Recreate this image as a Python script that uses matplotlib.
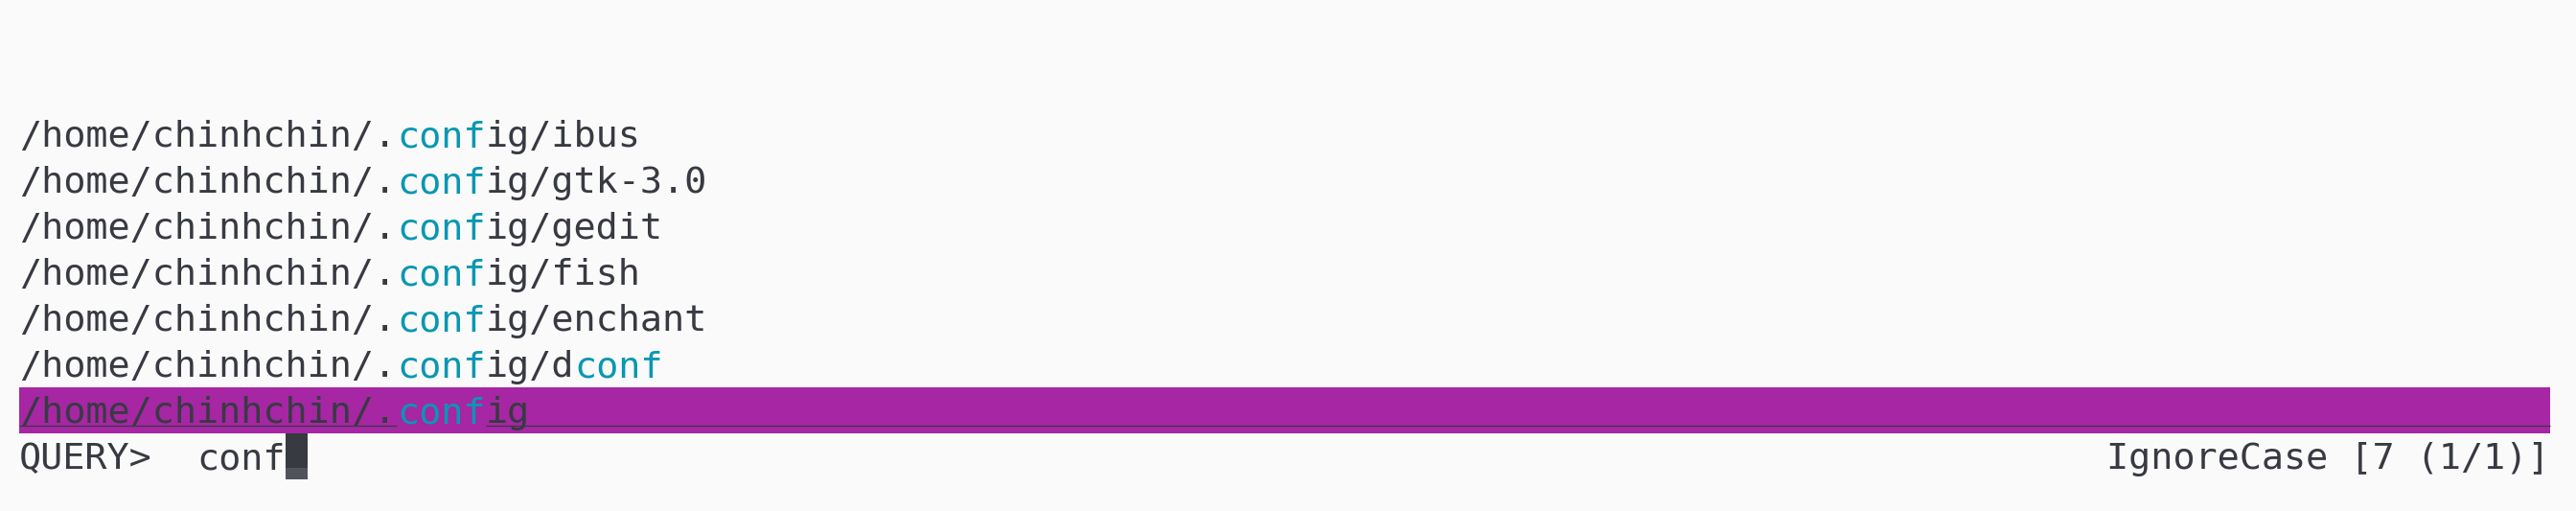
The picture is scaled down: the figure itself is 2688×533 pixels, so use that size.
import re
import matplotlib
matplotlib.use("Agg")
import matplotlib.pyplot as plt
from matplotlib.patches import Rectangle

# ---- content (what the screen shows) ----
lines = [
    "/home/chinhchin/.config/ibus",
    "/home/chinhchin/.config/gtk-3.0",
    "/home/chinhchin/.config/gedit",
    "/home/chinhchin/.config/fish",
    "/home/chinhchin/.config/enchant",
    "/home/chinhchin/.config/dconf",
    "/home/chinhchin/.config",
]
match_term = "conf"
query_prompt = "QUERY>"
query_text = "conf"
status_text = "IgnoreCase [7 (1/1)]"
selected_index = 6

# ---- styling / geometry ----
BG = "#fafafa"
FG = "#383a42"
CYAN = "#0997b3"
MAGENTA = "#a626a4"
CURSOR_LOW = "#50525c"

W, H, DPI = 2688, 533, 100
pad_left = 20.0
cell_w = 23.17
cell_h = 48.0
top0 = 116.0
n_cols = 114
font_px = cell_w / 0.602
font_pt = font_px * 72.0 / DPI
base_off = 37.0 / cell_h
FONT = "DejaVu Sans Mono"

fig = plt.figure(figsize=(W / DPI, H / DPI), dpi=DPI, facecolor=BG)
ax = fig.add_axes([0, 0, 1, 1])
ax.set_facecolor(BG)
ax.set_xlim(-pad_left / cell_w, (W - pad_left) / cell_w)
ax.set_ylim((H - top0) / cell_h, -top0 / cell_h)
ax.axis("off")


def draw_segments(row, col0, text, zorder=3):
    """Draw text with case-insensitive match_term highlighted in cyan."""
    pos = 0
    spans = [(m.start(), m.end()) for m in re.finditer(re.escape(match_term), text, re.I)]
    segs = []
    for s, e in spans:
        if s > pos:
            segs.append((pos, text[pos:s], FG))
        segs.append((s, text[s:e], CYAN))
        pos = e
    if pos < len(text):
        segs.append((pos, text[pos:], FG))
    for start, seg, color in segs:
        ax.text(col0 + start, row + base_off, seg, family=FONT, fontsize=font_pt,
                color=color, va="baseline", ha="left", zorder=zorder)
    return spans


# selection bar
ax.add_patch(Rectangle((0, selected_index), n_cols, 1, facecolor=MAGENTA,
                       edgecolor="none", zorder=1))

for i, line in enumerate(lines):
    spans = draw_segments(i, 0, line)
    if i == selected_index:
        ul_y = i + 39.5 / cell_h
        prev = 0
        for s, e in spans:
            ax.plot([prev, s], [ul_y, ul_y], color=FG, lw=0.9, solid_capstyle="butt", zorder=2)
            prev = e
        ax.plot([prev, n_cols], [ul_y, ul_y], color=FG, lw=0.9, solid_capstyle="butt", zorder=2)

# query row
q_row = len(lines)
ax.text(0, q_row + base_off, query_prompt, family=FONT, fontsize=font_pt,
        color=FG, va="baseline", ha="left", zorder=3)
q_col = len(query_prompt) + 2
ax.text(q_col, q_row + base_off, query_text, family=FONT, fontsize=font_pt,
        color=FG, va="baseline", ha="left", zorder=3)
cur_col = q_col + len(query_text)
ax.add_patch(Rectangle((cur_col, q_row), 1, 36.0 / cell_h, facecolor=FG,
                       edgecolor="none", zorder=2))
ax.add_patch(Rectangle((cur_col, q_row + 36.0 / cell_h), 1, 12.0 / cell_h,
                       facecolor=CURSOR_LOW, edgecolor="none", zorder=2))

# status on the right
ax.text(n_cols - len(status_text), q_row + base_off, status_text, family=FONT,
        fontsize=font_pt, color=FG, va="baseline", ha="left", zorder=3)

fig.savefig("out.png", dpi=DPI, facecolor=BG)
